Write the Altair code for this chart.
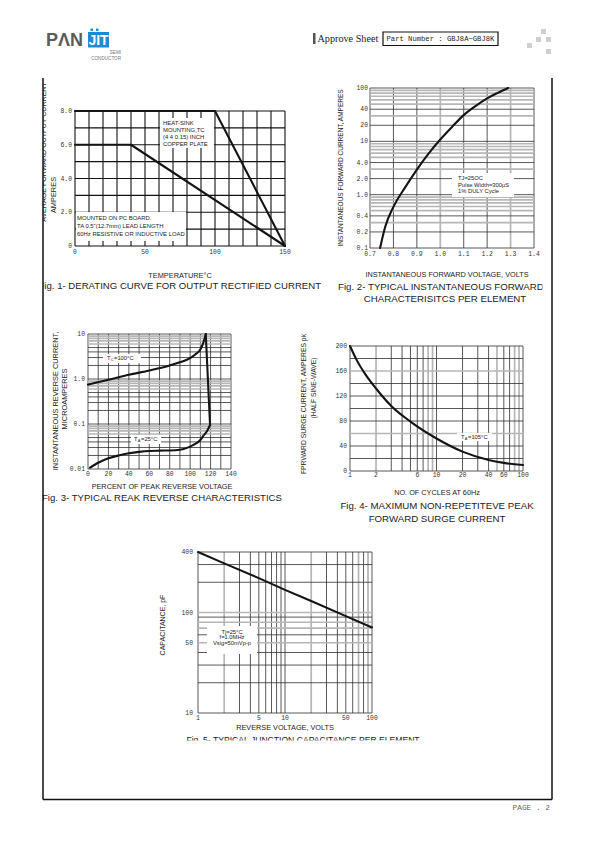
import altair as alt
import pandas as pd

MARGIN = 8
DARK = "#2e2e2e"
GREY = "#b6b6b6"
INK = "#141414"
TICK_FONT = "Liberation Mono"
SANS = "Liberation Sans"

# ---------------- Fig.1 derating curve ----------------
fig1_temp_heatsink = [0, 100, 150]
fig1_amps_heatsink = [8.0, 8.0, 0.0]
fig1_temp_pcb = [0, 40, 150]
fig1_amps_pcb = [6.0, 6.0, 0.0]
fig1_xtick_vals = [0, 50, 100, 150]
fig1_xtick_text = ["0", "50", "100", "150"]
fig1_ytick_vals = [0, 2, 4, 6, 8]
fig1_ytick_text = ["0", "2.0", "4.0", "6.0", "8.0"]
fig1_vgrid = [0, 10, 20, 30, 40, 50, 60, 70, 80, 90, 100, 110, 120, 130, 140, 150]
fig1_hgrid = [0, 1, 2, 3, 4, 5, 6, 7, 8]

# ---------------- Fig.2 forward characteristics ----------------
fig2_volts = [0.743, 0.765, 0.80, 0.85, 0.90, 0.95, 1.00, 1.05, 1.10, 1.15, 1.20, 1.245, 1.29]
fig2_amps = [0.1, 0.25, 0.59, 1.37, 2.96, 5.9, 10.8, 18.6, 31, 45.7, 64, 81, 100]
fig2_xtick_vals = [0.7, 0.8, 0.9, 1.0, 1.1, 1.2, 1.3, 1.4]
fig2_xtick_text = ["0.7", "0.8", "0.9", "1.0", "1.1", "1.2", "1.3", "1.4"]
fig2_ytick_vals = [0.1, 0.2, 0.4, 1, 2, 4, 10, 20, 40, 100]
fig2_ytick_text = ["0.1", "0.2", "0.4", "1.0", "2.0", "4.0", "10", "20", "40", "100"]
fig2_vgrid_dark = [0.7, 0.8, 0.9, 1.1, 1.2, 1.4]
fig2_vgrid_grey = [1.0, 1.3]
fig2_hgrid_dark = [0.1, 0.2, 0.4, 1, 2, 4, 10, 20, 40, 100]
fig2_hgrid_grey = [0.3, 0.5, 0.6, 0.7, 0.8, 0.9, 3, 5, 6, 7, 8, 9, 30, 50, 60, 70, 80, 90]

# ---------------- Fig.3 reverse characteristics ----------------
fig3_upper_pct = [0, 20, 40, 60, 80, 90, 100, 105, 110, 113, 115.3]
fig3_upper_ua = [0.75, 0.96, 1.24, 1.55, 2.0, 2.35, 2.9, 3.5, 4.5, 6.5, 10]
fig3_drop_pct = [115.3, 119.5]
fig3_drop_ua = [10, 0.095]
fig3_lower_pct = [2, 10, 20, 30, 40, 50, 60, 70, 80, 90, 100, 105, 110, 113, 116.3, 119.5]
fig3_lower_ua = [0.0107, 0.0138, 0.0173, 0.020, 0.0223, 0.024, 0.0252, 0.0256, 0.0258,
                 0.0268, 0.0314, 0.036, 0.044, 0.055, 0.068, 0.095]
fig3_xtick_vals = [0, 20, 40, 60, 80, 100, 120, 140]
fig3_xtick_text = ["0", "20", "40", "60", "80", "100", "120", "140"]
fig3_ytick_vals = [0.01, 0.1, 1, 10]
fig3_ytick_text = ["0.01", "0.1", "1.0", "10"]
fig3_vgrid = [0, 10, 20, 30, 40, 50, 60, 70, 80, 90, 100, 110, 120, 130, 140]
fig3_hgrid_dark = [0.01, 0.02, 0.03, 0.04, 0.05, 0.1, 0.2, 0.3, 0.4, 0.5, 1, 2, 3, 4, 5, 10]
fig3_hgrid_grey = [0.06, 0.07, 0.08, 0.09, 0.6, 0.7, 0.8, 0.9, 6, 7, 8, 9]

# ---------------- Fig.4 surge current ----------------
fig4_cycles = [1, 1.2, 1.5, 2, 3, 5, 10, 20, 40, 60, 100]
fig4_amps = [200, 177, 155, 132, 104, 79, 52, 31, 17.6, 13, 9.6]
fig4_xtick_vals = [1, 2, 6, 10, 20, 40, 60, 100]
fig4_xtick_text = ["1", "2", "6", "10", "20", "40", "60", "100"]
fig4_ytick_vals = [0, 40, 80, 120, 160, 200]
fig4_ytick_text = ["0", "40", "80", "120", "160", "200"]
fig4_vgrid_dark = [1, 3, 4, 5, 6, 7, 10, 20, 30, 40, 60, 70, 100]
fig4_vgrid_grey = [2, 8, 9, 50, 80, 90]
fig4_hgrid_dark = [0, 20, 40, 80, 100, 120, 140, 180, 200]
fig4_hgrid_grey = [60, 160]

# ---------------- Fig.5 junction capacitance ----------------
fig5_volts = [1, 2, 5, 10, 20, 50, 100]
fig5_pf = [400, 308, 220, 168, 130, 92, 71]
fig5_xtick_vals = [1, 5, 10, 50, 100]
fig5_xtick_text = ["1", "5", "10", "50", "100"]
fig5_ytick_vals = [10, 50, 100, 400]
fig5_ytick_text = ["10", "50", "100", "400"]
fig5_vgrid_dark = [1, 3, 4, 5, 6, 7, 8, 9, 10, 30, 40, 50, 60, 80, 100]
fig5_vgrid_grey = [2, 20, 70, 90]
fig5_hgrid_dark = [10, 20, 30, 40, 60, 90, 200, 300, 400]
fig5_hgrid_grey = [50, 70, 80, 100]

# ---------------- panel layout (page pixels) ----------------
panels = [
    dict(xtype="linear", xdom=[0, 150], xpx=[75, 285], ytype="linear", ydom=[0, 8], ypx=[246, 111],
         vdark=fig1_vgrid, vgrey=[], hdark=fig1_hgrid, hgrey=[], dark="#111111", dw=1.1,
         curves=[(fig1_temp_heatsink, fig1_amps_heatsink, "linear"),
                 (fig1_temp_pcb, fig1_amps_pcb, "linear")],
         xt=(fig1_xtick_vals, fig1_xtick_text), yt=(fig1_ytick_vals, fig1_ytick_text), xdy=6, ydx=-3),
    dict(xtype="linear", xdom=[0.7, 1.4], xpx=[370, 534], ytype="log", ydom=[0.1, 100], ypx=[248, 88],
         vdark=fig2_vgrid_dark, vgrey=fig2_vgrid_grey, hdark=fig2_hgrid_dark, hgrey=fig2_hgrid_grey,
         dark=DARK, dw=0.8, curves=[(fig2_volts, fig2_amps, "monotone")],
         xt=(fig2_xtick_vals, fig2_xtick_text), yt=(fig2_ytick_vals, fig2_ytick_text), xdy=6, ydx=-2),
    dict(xtype="linear", xdom=[0, 140], xpx=[88, 231], ytype="log", ydom=[0.01, 10], ypx=[469, 334],
         vdark=fig3_vgrid, vgrey=[], hdark=fig3_hgrid_dark, hgrey=fig3_hgrid_grey,
         dark=DARK, dw=0.8,
         curves=[(fig3_upper_pct, fig3_upper_ua, "monotone"),
                 (fig3_drop_pct, fig3_drop_ua, "linear"),
                 (fig3_lower_pct, fig3_lower_ua, "monotone")],
         xt=(fig3_xtick_vals, fig3_xtick_text), yt=(fig3_ytick_vals, fig3_ytick_text), xdy=5, ydx=-3),
    dict(xtype="log", xdom=[1, 100], xpx=[350, 523], ytype="linear", ydom=[0, 200], ypx=[471, 346],
         vdark=fig4_vgrid_dark, vgrey=fig4_vgrid_grey, hdark=fig4_hgrid_dark, hgrey=fig4_hgrid_grey,
         dark=DARK, dw=0.8, curves=[(fig4_cycles, fig4_amps, "monotone")],
         xt=(fig4_xtick_vals, fig4_xtick_text), yt=(fig4_ytick_vals, fig4_ytick_text), xdy=4, ydx=-3),
    dict(xtype="log", xdom=[1, 100], xpx=[198, 372], ytype="log", ydom=[10, 400], ypx=[713, 552],
         vdark=fig5_vgrid_dark, vgrey=fig5_vgrid_grey, hdark=fig5_hgrid_dark, hgrey=fig5_hgrid_grey,
         dark=DARK, dw=0.8, curves=[(fig5_volts, fig5_pf, "linear")],
         xt=(fig5_xtick_vals, fig5_xtick_text), yt=(fig5_ytick_vals, fig5_ytick_text), xdy=5, ydx=-5),
]


def make_panel(p):
    xs = alt.Scale(type=p["xtype"], domain=p["xdom"],
                   range=[p["xpx"][0] - MARGIN, p["xpx"][1] - MARGIN], nice=False)
    ys = alt.Scale(type=p["ytype"], domain=p["ydom"],
                   range=[p["ypx"][0] - MARGIN, p["ypx"][1] - MARGIN], nice=False)

    def X(f):
        return alt.X(f, type="quantitative", scale=xs, axis=None)

    def Y(f):
        return alt.Y(f, type="quantitative", scale=ys, axis=None)

    layers = []
    for vals, color, w in [(p["vgrey"], GREY, 1.7), (p["vdark"], p["dark"], p["dw"])]:
        if vals:
            df = pd.DataFrame({"v": vals, "lo": p["ydom"][0], "hi": p["ydom"][1]})
            layers.append(alt.Chart(df).mark_rule(color=color, strokeWidth=w)
                          .encode(x=X("v"), y=Y("lo"), y2="hi"))
    for vals, color, w in [(p["hgrey"], GREY, 1.7), (p["hdark"], p["dark"], p["dw"])]:
        if vals:
            df = pd.DataFrame({"v": vals, "lo": p["xdom"][0], "hi": p["xdom"][1]})
            layers.append(alt.Chart(df).mark_rule(color=color, strokeWidth=w)
                          .encode(y=Y("v"), x=X("lo"), x2="hi"))
    for cx, cy, interp in p["curves"]:
        df = pd.DataFrame({"a": cx, "b": cy, "i": list(range(len(cx)))})
        layers.append(alt.Chart(df).mark_line(color=INK, strokeWidth=2.1, strokeJoin="round",
                                              strokeCap="round", interpolate=interp)
                      .encode(x=X("a"), y=Y("b"), order=alt.Order("i:Q")))
    xv, xtxt = p["xt"]
    df = pd.DataFrame({"v": xv, "t": xtxt, "base": p["ydom"][0]})
    layers.append(alt.Chart(df).mark_text(font=TICK_FONT, fontSize=6.4, color="#333333",
                                          align="center", baseline="middle", dy=p["xdy"])
                  .encode(x=X("v"), y=Y("base"), text="t:N"))
    yv, ytxt = p["yt"]
    df = pd.DataFrame({"v": yv, "t": ytxt, "base": p["xdom"][0]})
    layers.append(alt.Chart(df).mark_text(font=TICK_FONT, fontSize=6.4, color="#333333",
                                          align="right", baseline="middle", dx=p["ydx"])
                  .encode(y=Y("v"), x=X("base"), text="t:N"))
    return alt.layer(*layers)


# ---------------- page furniture (page pixel coordinates) ----------------
PX = alt.Scale(domain=[0, 595], range=[-MARGIN, 595 - MARGIN], nice=False)
PY = alt.Scale(domain=[0, 842], range=[-MARGIN, 842 - MARGIN], nice=False)


def PXe(f):
    return alt.X(f, type="quantitative", scale=PX, axis=None)


def PYe(f):
    return alt.Y(f, type="quantitative", scale=PY, axis=None)


annot_boxes = pd.DataFrame([
    (160, 118, 214, 148), (76, 212, 186, 241), (452, 173, 514, 197),
    (103, 354, 141, 363), (131, 435, 161, 444), (457, 433, 492, 441), (207, 626, 257, 654),
], columns=["x", "y", "x2", "y2"])

# (x, y, text, size, align, angle)
texts = [
    # annotations
    (163, 123, "HEAT-SINK", 5.9, "left", 0), (163, 130, "MOUNTING,TC", 5.9, "left", 0),
    (163, 137, "(4  4  0.15) INCH", 5.9, "left", 0), (163, 144, "COPPER PLATE", 5.9, "left", 0),
    (77, 218, "MOUNTED ON PC BOARD.", 5.9, "left", 0),
    (77, 226, "TA 0.5\"(12.7mm) LEAD LENGTH", 5.9, "left", 0),
    (77, 234, "60Hz RESISTIVE OR INDUCTIVE LOAD", 5.9, "left", 0),
    (458, 178, "TJ=25OC", 5.8, "left", 0), (458, 184.5, "Pulse Width=300μS", 5.8, "left", 0),
    (458, 191, "1% DULY Cycle", 5.8, "left", 0),
    (107, 358, "T", 5.8, "left", 0), (110.8, 360, "C", 3.9, "left", 0), (114, 358, "=100°C", 5.8, "left", 0),
    (134, 439, "T", 5.8, "left", 0), (137.8, 441, "A", 3.9, "left", 0), (141, 439, "=25°C", 5.8, "left", 0),
    (461, 437, "T", 5.8, "left", 0), (464.8, 439, "A", 3.9, "left", 0), (468, 437, "=105°C", 5.8, "left", 0),
    (232, 631.5, "Tj=25°C", 5.8, "center", 0), (232, 637, "f=1.0MHz", 5.8, "center", 0),
    (232, 642.5, "Vsig=50mVp-p", 5.8, "center", 0),
    # axis titles
    (180, 276, "TEMPERATURE°C", 7.4, "center", 0),
    (43.6, 152, "AVERAGE FORWARD OUTPUT CURRENT", 7.1, "center", 270),
    (53.5, 195, "AMPERES", 7.4, "center", 270),
    (447, 275, "INSTANTANEOUS FORWARD VOLTAGE, VOLTS", 7.3, "center", 0),
    (341, 168, "INSTANTANEOUS FORWARD CURRENT, AMPERES", 6.5, "center", 270),
    (56, 401, "INSTANTANEOUS REVERSE CURRENT,", 7.4, "center", 270),
    (64.5, 399, "MICROAMPERES", 7.4, "center", 270),
    (162, 487, "PERCENT OF PEAK REVERSE VOLTAGE", 7.3, "center", 0),
    (304, 404, "FPRWARD SURGE CURRENT, AMPERES pk", 6.8, "center", 270),
    (314, 388, "(HALF SINE-WAVE)", 6.8, "center", 270),
    (437, 493, "NO. OF CYCLES AT 60Hz", 7.3, "center", 0),
    (163, 625, "CAPACITANCE, pF", 7.0, "center", 270),
    (285, 728, "REVERSE VOLTAGE, VOLTS", 7.3, "center", 0),
    # captions
    (38.5, 286, "Fig. 1- DERATING CURVE FOR OUTPUT RECTIFIED CURRENT", 9.6, "left", 0),
    (338, 287, "Fig. 2- TYPICAL INSTANTANEOUS FORWARD", 9.7, "left", 0),
    (445, 299, "CHARACTERISITCS PER ELEMENT", 9.7, "center", 0),
    (42, 498, "Fig. 3- TYPICAL REAK REVERSE CHARACTERISTICS", 9.6, "left", 0),
    (437, 506, "Fig. 4- MAXIMUM NON-REPETITEVE PEAK", 9.7, "center", 0),
    (437, 519, "FORWARD SURGE CURRENT", 9.7, "center", 0),
    (303, 739.6, "Fig. 5- TYPICAL JUNCTION CAPACITANCE PER ELEMENT", 8.6, "center", 0),
]
text_df = pd.DataFrame(texts, columns=["x", "y", "t", "s", "align", "angle"])

clip_rects = pd.DataFrame([
    (20, 78, 43.2, 300), (20, 480, 42.8, 510), (542.5, 279, 551.3, 294), (150, 740.6, 450, 760),
], columns=["x", "y", "x2", "y2"])

frame = pd.DataFrame([
    (43, 78, 43, 799.5), (552, 78, 552, 799.5), (43, 799.5, 552, 799.5),
], columns=["x", "y", "x2", "y2"])

header_rects = pd.DataFrame([
    (88, 32, 109, 47.5, "#1d8bd3"), (90.5, 28.5, 93, 31, "#1d8bd3"), (96, 28.5, 98.5, 31, "#1d8bd3"),
    (313, 33, 315.5, 44, "#555555"),
    (541, 29, 546, 34, "#cfcfcf"), (536, 37, 541, 42, "#cfcfcf"), (546, 37, 551, 42, "#cfcfcf"),
    (527, 43, 532, 48, "#cfcfcf"), (546, 49, 551, 54, "#cfcfcf"),
], columns=["x", "y", "x2", "y2", "c"])

header_box = pd.DataFrame([(383, 32, 498, 45.5)], columns=["x", "y", "x2", "y2"])

# (x, y, text, size, align, font, weight, color)
header_texts = [
    (46, 40.5, "PΛN", 18, "left", SANS, "bold", "#5b5b5b"),
    (98.5, 40.5, "JIT", 14, "center", SANS, "bold", "#ffffff"),
    (121, 52.5, "SEMI", 4.6, "right", SANS, "normal", "#777777"),
    (121, 59, "CONDUCTOR", 4.6, "right", SANS, "normal", "#777777"),
    (317.5, 38.8, "Approve Sheet", 10.2, "left", "Liberation Serif", "normal", "#222222"),
    (386.5, 39, "Part Number : GBJ8A~GBJ8K", 7.2, "left", TICK_FONT, "normal", "#222222"),
    (550, 808, "PAGE . 2", 7.8, "right", TICK_FONT, "normal", "#666666"),
]
htext_df = pd.DataFrame(header_texts, columns=["x", "y", "t", "s", "align", "font", "weight", "c"])

page_layers = [
    alt.Chart(annot_boxes).mark_rect(color="white")
    .encode(x=PXe("x"), y=PYe("y"), x2="x2", y2="y2"),
]
for (al,), grp in text_df.groupby(["align"]):
    page_layers.append(
        alt.Chart(grp.reset_index(drop=True)).mark_text(font=SANS, align=al, baseline="middle", color="#1c1c1c")
        .encode(x=PXe("x"), y=PYe("y"), text="t:N",
                size=alt.Size("s:Q", scale=None), angle=alt.Angle("angle:Q", scale=None)))
page_layers.append(alt.Chart(clip_rects).mark_rect(color="white")
                   .encode(x=PXe("x"), y=PYe("y"), x2="x2", y2="y2"))
page_layers.append(alt.Chart(frame).mark_rule(color="#111111", strokeWidth=1.5)
                   .encode(x=PXe("x"), y=PYe("y"), x2="x2", y2="y2"))
page_layers.append(alt.Chart(header_rects).mark_rect()
                   .encode(x=PXe("x"), y=PYe("y"), x2="x2", y2="y2", color=alt.Color("c:N", scale=None)))
page_layers.append(alt.Chart(header_box).mark_rect(fillOpacity=0, stroke="#111111", strokeWidth=1.2)
                   .encode(x=PXe("x"), y=PYe("y"), x2="x2", y2="y2"))
for i in range(len(htext_df)):
    row = htext_df.iloc[[i]].reset_index(drop=True)
    r = row.iloc[0]
    page_layers.append(
        alt.Chart(row).mark_text(font=r["font"], fontWeight=r["weight"], align=r["align"],
                                 baseline="middle", color=r["c"], fontSize=float(r["s"]))
        .encode(x=PXe("x"), y=PYe("y"), text="t:N"))

page = alt.layer(*page_layers)

chart = alt.layer(*[make_panel(p) for p in panels], page).resolve_scale(
    x="independent", y="independent"
).properties(
    width=595 - 2 * MARGIN, height=842 - 2 * MARGIN,
    autosize=alt.AutoSizeParams(type="none"), padding=0,
).configure_view(strokeWidth=0)

chart.save("out.html", embed_options={"renderer": "svg", "actions": False})
